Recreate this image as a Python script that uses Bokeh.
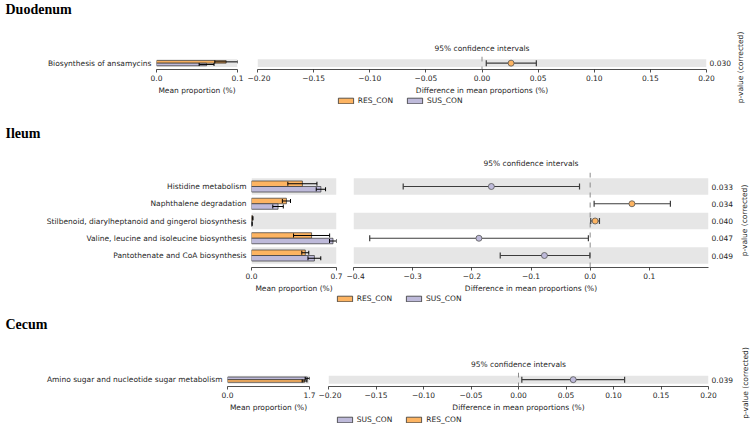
from bokeh.plotting import figure
from bokeh.layouts import row, column
from bokeh.models import (ColumnDataSource, FixedTicker, Whisker, TeeHead, Span, Label,
                          Legend, LegendItem, Range1d)
from bokeh.embed import file_html
from bokeh.resources import INLINE

# ---------------- data ----------------
duo_groups = ["RES_CON", "SUS_CON"]
duo_pathways = ["Biosynthesis of ansamycins"]
duo_mean_res = [0.089]
duo_std_res = [0.0145]
duo_mean_sus = [0.064]
duo_std_sus = [0.0095]
duo_diff = [0.0259]
duo_ci_low = [0.0038]
duo_ci_high = [0.0484]
duo_pvalues = ["0.030"]
duo_bar_max = 0.1035
duo_bar_max_label = "0.1"
duo_ci_ticks = [-0.20, -0.15, -0.10, -0.05, 0.00, 0.05, 0.10, 0.15, 0.20]

ileum_groups = ["RES_CON", "SUS_CON"]
ileum_pathways = ["Histidine metabolism", "Naphthalene degradation",
                  "Stilbenoid, diarylheptanoid and gingerol biosynthesis",
                  "Valine, leucine and isoleucine biosynthesis",
                  "Pantothenate and CoA biosynthesis"]
ileum_mean_res = [0.437, 0.300, 0.009, 0.516, 0.462]
ileum_std_res = [0.125, 0.035, 0.004, 0.155, 0.030]
ileum_mean_sus = [0.596, 0.228, 0.004, 0.700, 0.540]
ileum_std_sus = [0.040, 0.045, 0.002, 0.030, 0.055]
ileum_diff = [-0.167, 0.0706, 0.0084, -0.188, -0.0773]
ileum_ci_low = [-0.316, 0.0067, 0.0010, -0.3726, -0.152]
ileum_ci_high = [-0.018, 0.1356, 0.0157, -0.003, -0.0005]
ileum_pvalues = ["0.033", "0.034", "0.040", "0.047", "0.049"]
ileum_bar_max = 0.73
ileum_bar_max_label = "0.7"
ileum_ci_ticks = [-0.4, -0.3, -0.2, -0.1, 0.0, 0.1]

cecum_groups = ["SUS_CON", "RES_CON"]
cecum_pathways = ["Amino sugar and nucleotide sugar metabolism"]
cecum_mean_sus = [1.665]
cecum_std_sus = [0.045]
cecum_mean_res = [1.607]
cecum_std_res = [0.050]
cecum_diff = [0.0576]
cecum_ci_low = [0.0035]
cecum_ci_high = [0.1117]
cecum_pvalues = ["0.039"]
cecum_bar_max = 1.71
cecum_bar_max_label = "1.7"
cecum_ci_ticks = [-0.20, -0.15, -0.10, -0.05, 0.00, 0.05, 0.10, 0.15, 0.20]

section_titles = ["Duodenum", "Ileum", "Cecum"]

# ---------------- style ----------------
COLORS = {"RES_CON": "#FDB462", "SUS_CON": "#BEBADA"}
BAND = "#E6E6E6"
FONT = "DejaVu Sans"
FS = "7.5px"
TXT = "#262626"
LEFT_W = 735


def fmt(t, dec):
    return f"{t:.{dec}f}".replace("-", "\u2212")


def style_common(p):
    p.outline_line_color = None
    p.grid.visible = False
    p.background_fill_color = "white"
    p.border_fill_color = "white"


def style_xaxis(ax, label):
    ax.axis_label = label
    ax.axis_label_text_font = FONT
    ax.axis_label_text_font_size = FS
    ax.axis_label_text_font_style = "normal"
    ax.axis_label_text_color = TXT
    ax.axis_label_standoff = 2
    ax.major_label_text_font = FONT
    ax.major_label_text_font_size = FS
    ax.major_label_text_color = TXT
    ax.major_label_standoff = 2
    ax.axis_line_color = "#222222"
    ax.axis_line_width = 0.8
    ax.major_tick_line_color = "#222222"
    ax.major_tick_line_width = 0.8
    ax.major_tick_out = 3
    ax.major_tick_in = 0
    ax.minor_tick_line_color = None


def style_yaxis(ax, ticks, labels, standoff):
    ax.ticker = FixedTicker(ticks=ticks)
    ax.major_label_overrides = {t: l for t, l in zip(ticks, labels)}
    ax.axis_line_color = None
    ax.major_tick_line_color = None
    ax.minor_tick_line_color = None
    ax.major_tick_out = 0
    ax.major_tick_in = 0
    ax.major_label_standoff = standoff
    ax.major_label_text_font = FONT
    ax.major_label_text_font_size = FS
    ax.major_label_text_color = TXT


def blank_fig(w, h):
    f = figure(width=w, height=h, x_range=Range1d(0, w), y_range=Range1d(0, h),
               output_backend="svg", toolbar_location=None, min_border=0,
               x_axis_type=None, y_axis_type=None)
    style_common(f)
    return f


def text_fig(h, title=None, title_y=None, groups=None, leg=None):
    f = blank_fig(LEFT_W, h)
    if title is not None:
        f.add_layout(Label(x=5, y=title_y, x_units="screen", y_units="screen",
                           text=title, text_font="Liberation Serif", text_font_style="bold",
                           text_font_size="14px", text_color="black",
                           text_align="left", text_baseline="middle"))
    if groups is not None:
        items = []
        for gr in groups:
            # legend-only renderer: one undefined (NaN) row, so nothing is drawn in the frame
            src = ColumnDataSource(dict(y=[float("nan")], l=[float("nan")], r=[float("nan")]))
            rr = f.hbar(y="y", height=0.5, left="l", right="r", source=src,
                        fill_color=COLORS[gr], line_color="#333333", line_width=0.8)
            items.append(LegendItem(label=gr, renderers=[rr]))
        f.add_layout(Legend(items=items, location=leg, orientation="horizontal",
                            glyph_width=19, glyph_height=7, label_standoff=3, spacing=12,
                            padding=0, margin=0, border_line_color=None,
                            background_fill_alpha=0, label_text_font=FONT,
                            label_text_font_size=FS, label_text_color=TXT,
                            label_height=8, label_width=10), "center")
    return f


def section(names, groups, means, stds, diff, lo, hi, pvals,
            bar_max, bar_max_label, ci_ticks, ci_dec, g):
    n = len(names)
    ys = list(range(n - 1, -1, -1))
    frame_h = g["h"] - g["top"] - g["bottom"]
    y0 = -g["yc"] / g["unit"]
    y1 = y0 + frame_h / g["unit"]
    band_ys = [ys[i] for i in range(n) if i % 2 == 0]
    cols = [COLORS[gr] for gr in groups]
    bh = 0.32

    # ---- bar panel ----
    bf = figure(width=g["bw"], height=g["h"], x_range=Range1d(0, bar_max),
                y_range=Range1d(y0, y1), output_backend="svg", toolbar_location=None,
                min_border_left=g["bl"], min_border_right=g["br"],
                min_border_top=g["top"], min_border_bottom=g["bottom"])
    style_common(bf)
    bf.hbar(y=band_ys, height=0.97, left=0, right=bar_max, color=BAND, line_color=None)
    for k in range(2):
        off = bh / 2 if k == 0 else -bh / 2
        src = ColumnDataSource(dict(
            y=[y + off for y in ys], m=means[k],
            lo=[m - s for m, s in zip(means[k], stds[k])],
            hi=[m + s for m, s in zip(means[k], stds[k])]))
        bf.hbar(y="y", height=bh, left=0, right="m", source=src,
                fill_color=cols[k], line_color="#333333", line_width=0.7)
        bf.add_layout(Whisker(source=src, base="y", lower="lo", upper="hi",
                              dimension="width", line_color="black", line_width=1,
                              level="annotation",
                              lower_head=TeeHead(size=g["cap"], line_color="black", line_width=1),
                              upper_head=TeeHead(size=g["cap"], line_color="black", line_width=1)))
    xa = bf.xaxis[0]
    xa.ticker = FixedTicker(ticks=[0, bar_max])
    xa.major_label_overrides = {0: "0.0", bar_max: bar_max_label}
    style_xaxis(xa, "Mean proportion (%)")
    style_yaxis(bf.yaxis[0], ys, names, 5)

    # ---- CI panel ----
    cmin, cmax = ci_ticks[0], g["ci_max"]
    cf = figure(width=g["cw"], height=g["h"], x_range=Range1d(cmin, cmax),
                y_range=Range1d(y0, y1), y_axis_location="right",
                output_backend="svg", toolbar_location=None,
                title="95% confidence intervals",
                min_border_left=g["cl"], min_border_right=g["cr"],
                min_border_top=g["top"], min_border_bottom=g["bottom"])
    style_common(cf)
    cf.title.align = "center"
    cf.title.text_font = FONT
    cf.title.text_font_size = FS
    cf.title.text_font_style = "normal"
    cf.title.text_color = TXT
    cf.title.standoff = g["tstand"]
    cf.hbar(y=band_ys, height=0.97, left=cmin, right=cmax, color=BAND, line_color=None)
    cf.add_layout(Span(location=0, dimension="height", line_color="#8a8a8a",
                       line_dash="5 5", line_width=1, level="annotation"))
    csrc = ColumnDataSource(dict(
        y=ys, d=diff, lo=lo, hi=hi,
        c=[cols[0] if v > 0 else cols[1] for v in diff]))
    cf.add_layout(Whisker(source=csrc, base="y", lower="lo", upper="hi",
                          dimension="width", line_color="#3c3c3c", line_width=1.2,
                          level="annotation",
                          lower_head=TeeHead(size=6, line_color="#3c3c3c", line_width=1.2),
                          upper_head=TeeHead(size=6, line_color="#3c3c3c", line_width=1.2)))
    pts = cf.scatter(x="d", y="y", source=csrc, size=6, marker="circle",
                     fill_color="c", line_color="#555555", line_width=0.8)
    pts.level = "overlay"
    cx = cf.xaxis[0]
    cx.ticker = FixedTicker(ticks=ci_ticks)
    cx.major_label_overrides = {t: fmt(t, ci_dec) for t in ci_ticks}
    style_xaxis(cx, "Difference in mean proportions (%)")
    style_yaxis(cf.yaxis[0], ys, pvals, 3)
    return row(bf, cf)


f0 = text_fig(30, section_titles[0], 21.5)
r1 = section(duo_pathways, duo_groups,
             [duo_mean_res, duo_mean_sus], [duo_std_res, duo_std_sus],
             duo_diff, duo_ci_low, duo_ci_high, duo_pvalues,
             duo_bar_max, duo_bar_max_label, duo_ci_ticks, 2,
             dict(h=67, top=26, bottom=25, bw=247, bl=156, br=10, cw=488, cl=10, cr=29,
                  unit=10, yc=7.8, cap=3, ci_max=0.20, tstand=8))
f1 = text_fig(53, section_titles[1], 16.7, duo_groups, (335.8, 45))
r2 = section(ileum_pathways, ileum_groups,
             [ileum_mean_res, ileum_mean_sus], [ileum_std_res, ileum_std_sus],
             ileum_diff, ileum_ci_low, ileum_ci_high, ileum_pvalues,
             ileum_bar_max, ileum_bar_max_label, ileum_ci_ticks, 1,
             dict(h=145, top=22, bottom=28, bw=346, bl=251, br=10, cw=389, cl=7, cr=25,
                  unit=17.25, yc=12, cap=4, ci_max=0.20, tstand=10))
f2 = text_fig(50, section_titles[2], 20.7, ileum_groups, (334.8, 42))
r3 = section(cecum_pathways, cecum_groups,
             [cecum_mean_sus, cecum_mean_res], [cecum_std_sus, cecum_std_res],
             cecum_diff, cecum_ci_low, cecum_ci_high, cecum_pvalues,
             cecum_bar_max, cecum_bar_max_label, cecum_ci_ticks, 2,
             dict(h=69, top=27, bottom=25, bw=318, bl=227, br=9, cw=417, cl=10, cr=25,
                  unit=10, yc=8.3, cap=3, ci_max=0.20, tstand=8))
f3 = text_fig(11, None, None, cecum_groups, (334.8, 1.5))

# right strip with the rotated p-value captions
strip = blank_fig(750 - LEFT_W, 425)
for sx, sy in [(4.5, 358), (9, 205), (10, 42.5)]:
    strip.add_layout(Label(x=sx, y=sy, x_units="screen", y_units="screen",
                           text="p-value (corrected)", text_font=FONT, text_font_size=FS,
                           text_color=TXT, text_align="center", text_baseline="middle",
                           angle=1.5707963))

p = row(column(f0, r1, f1, r2, f2, r3, f3), strip)
open("out.html", "w").write(file_html(p, INLINE))
